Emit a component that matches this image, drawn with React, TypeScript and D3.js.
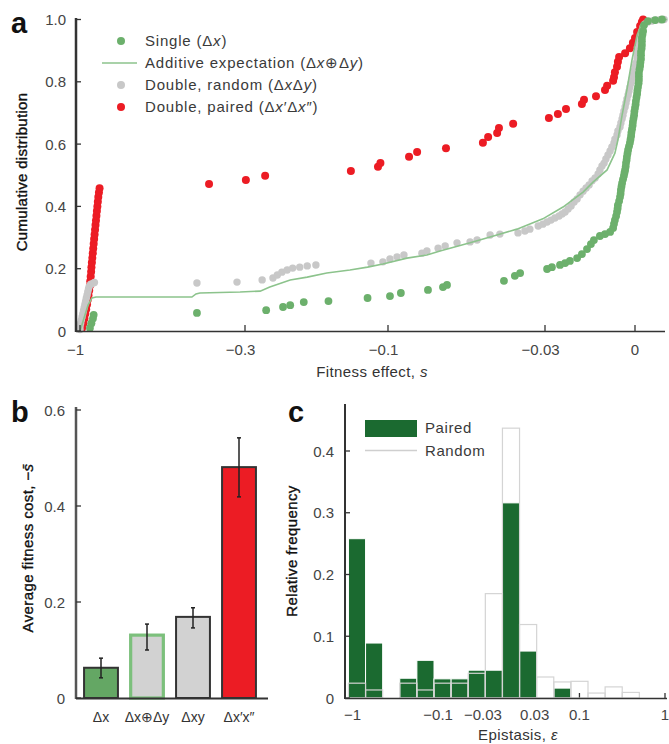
import React from 'react';
import * as d3 from 'd3';

const FONT = "'Liberation Sans', Arial, Helvetica, sans-serif";

// ---------------- Panel a: cumulative distributions [fitness effect s, cumulative fraction] -------------
const singleDx: [number, number][] = [
  [-0.93, 0.01], [-0.92, 0.025], [-0.91, 0.04], [-0.905, 0.052],
  [-0.426, 0.058], [-0.255, 0.067], [-0.224, 0.077], [-0.212, 0.083], [-0.191, 0.093], [-0.158, 0.096],
  [-0.117, 0.106], [-0.0985, 0.112], [-0.0906, 0.122], [-0.0736, 0.132], [-0.0656, 0.141], [-0.0636, 0.148],
  [-0.0411, 0.161], [-0.0378, 0.177], [-0.0363, 0.186], [-0.0293, 0.199], [-0.0277, 0.205], [-0.025, 0.212],
  [-0.0233, 0.218], [-0.0217, 0.225], [-0.0193, 0.234], [-0.0177, 0.247], [-0.016, 0.263], [-0.0147, 0.279],
  [-0.0137, 0.292], [-0.0117, 0.305], [-0.01, 0.311], [-0.0083, 0.318], [-0.0073, 0.331], [-0.007, 0.344],
  [-0.0067, 0.356], [-0.0063, 0.369], [-0.006, 0.382], [-0.0058, 0.393], [-0.0057, 0.404], [-0.0053, 0.417],
  [-0.005, 0.43], [-0.0048, 0.441], [-0.0047, 0.453], [-0.0045, 0.464], [-0.0043, 0.475], [-0.004, 0.487],
  [-0.0037, 0.498], [-0.0035, 0.508], [-0.0033, 0.517], [-0.0031, 0.528], [-0.003, 0.539], [-0.0028, 0.549],
  [-0.0027, 0.559], [-0.0025, 0.57], [-0.0023, 0.581], [-0.002, 0.593], [-0.0017, 0.604], [-0.0015, 0.615],
  [-0.0013, 0.626], [-0.0012, 0.637], [-0.001, 0.648], [-0.0008, 0.66], [-0.0007, 0.671], [-0.0005, 0.682],
  [-0.0003, 0.693], [-0.0002, 0.705], [0, 0.716], [0.0002, 0.727], [0.0003, 0.738], [0.0005, 0.75],
  [0.0007, 0.761], [0.0008, 0.772], [0.001, 0.783], [0.0012, 0.795], [0.0013, 0.806], [0.0013, 0.817],
  [0.0013, 0.828], [0.0015, 0.84], [0.0017, 0.851], [0.0018, 0.862], [0.002, 0.873], [0.002, 0.885],
  [0.002, 0.896], [0.0022, 0.907], [0.0023, 0.918], [0.0023, 0.93], [0.0023, 0.941], [0.0025, 0.952],
  [0.0027, 0.963], [0.003, 0.982], [0.0043, 0.995], [0.0067, 0.998], [0.009, 1.0],
];

const additiveExp: [number, number][] = [
  [-1, 0], [-0.971, 0.042], [-0.943, 0.083], [-0.916, 0.106], [-0.89, 0.109], [-0.442, 0.109],
  [-0.429, 0.119], [-0.417, 0.122], [-0.311, 0.125], [-0.267, 0.128], [-0.248, 0.141], [-0.212, 0.164],
  [-0.186, 0.173], [-0.16, 0.186], [-0.134, 0.196], [-0.117, 0.205], [-0.104, 0.215], [-0.0865, 0.234],
  [-0.0742, 0.244], [-0.0671, 0.257], [-0.0533, 0.283], [-0.0457, 0.302], [-0.0372, 0.327], [-0.0305, 0.36],
  [-0.024, 0.398], [-0.0173, 0.446], [-0.014, 0.478], [-0.0093, 0.517], [-0.0067, 0.571], [-0.0057, 0.613],
  [-0.0043, 0.693], [-0.0027, 0.774], [-0.001, 0.87], [0.0007, 0.95], [0.002, 0.982], [0.0043, 0.995],
  [0.0107, 1.0],
];

const doubleRandom: [number, number][] = [
  [-1, 0.005], [-1, 0.015], [-0.995, 0.025], [-0.99, 0.035], [-0.985, 0.045], [-0.98, 0.055], [-0.975, 0.065],
  [-0.97, 0.075], [-0.965, 0.085], [-0.96, 0.095], [-0.955, 0.105], [-0.95, 0.115], [-0.945, 0.125],
  [-0.94, 0.135], [-0.935, 0.143], [-0.925, 0.15], [-0.91, 0.153], [-0.9, 0.156],
  [-0.426, 0.154], [-0.318, 0.157], [-0.263, 0.164], [-0.242, 0.17], [-0.234, 0.18], [-0.226, 0.189],
  [-0.217, 0.196], [-0.208, 0.202], [-0.197, 0.205], [-0.186, 0.209], [-0.174, 0.212], [-0.114, 0.218],
  [-0.104, 0.222], [-0.0985, 0.231], [-0.0933, 0.238], [-0.0885, 0.244], [-0.0771, 0.25], [-0.0742, 0.257],
  [-0.0681, 0.266], [-0.0645, 0.273], [-0.0589, 0.283], [-0.0533, 0.286], [-0.0505, 0.292], [-0.0457, 0.308],
  [-0.0424, 0.311], [-0.0369, 0.315], [-0.035, 0.321], [-0.0337, 0.327], [-0.0316, 0.337], [-0.0305, 0.343],
  [-0.0293, 0.35], [-0.028, 0.356], [-0.0267, 0.363], [-0.0253, 0.369], [-0.0243, 0.376], [-0.0233, 0.382],
  [-0.0223, 0.392], [-0.0213, 0.401], [-0.0203, 0.414], [-0.0193, 0.424], [-0.0183, 0.437], [-0.0173, 0.449],
  [-0.0163, 0.459], [-0.0153, 0.469], [-0.0143, 0.482], [-0.0133, 0.491], [-0.0123, 0.504], [-0.0117, 0.517],
  [-0.011, 0.53], [-0.0103, 0.539], [-0.0097, 0.552], [-0.009, 0.565], [-0.0083, 0.578], [-0.0077, 0.591],
  [-0.007, 0.604], [-0.0067, 0.616], [-0.006, 0.629], [-0.0057, 0.642], [-0.005, 0.655], [-0.0047, 0.668],
  [-0.0043, 0.681], [-0.004, 0.693], [-0.0037, 0.706], [-0.0033, 0.719], [-0.003, 0.732], [-0.0027, 0.745],
  [-0.0023, 0.758], [-0.002, 0.77], [-0.0017, 0.783], [-0.0013, 0.796], [-0.001, 0.809], [-0.0007, 0.822],
  [-0.0003, 0.835], [0, 0.848], [0.0003, 0.86], [0.0007, 0.873], [0.0007, 0.886], [0.001, 0.899],
  [0.0013, 0.912], [0.0013, 0.925], [0.0017, 0.937], [0.002, 0.95], [0.0023, 0.963], [0.0027, 0.976],
  [0.0033, 0.986], [0.0043, 0.992], [0.0057, 0.995], [0.007, 0.998], [0.0083, 0.999], [0.0097, 1.0],
];

const doublePaired: [number, number][] = [
  [-0.985, 0.01], [-0.975, 0.025], [-0.968, 0.04], [-0.962, 0.055], [-0.956, 0.07], [-0.95, 0.085],
  [-0.945, 0.1], [-0.94, 0.115], [-0.935, 0.13], [-0.93, 0.145], [-0.928, 0.16], [-0.925, 0.175],
  [-0.922, 0.19], [-0.92, 0.205], [-0.917, 0.22], [-0.914, 0.235], [-0.911, 0.25], [-0.908, 0.265],
  [-0.905, 0.28], [-0.902, 0.295], [-0.899, 0.31], [-0.896, 0.325], [-0.893, 0.34], [-0.89, 0.355],
  [-0.887, 0.37], [-0.884, 0.385], [-0.881, 0.4], [-0.878, 0.415], [-0.875, 0.43], [-0.871, 0.445],
  [-0.867, 0.458],
  [-0.39, 0.472], [-0.298, 0.485], [-0.257, 0.498], [-0.133, 0.514], [-0.108, 0.527], [-0.106, 0.539],
  [-0.0851, 0.559], [-0.08, 0.575], [-0.0641, 0.587], [-0.0483, 0.604], [-0.0464, 0.623], [-0.0433, 0.636],
  [-0.0427, 0.652], [-0.0383, 0.665], [-0.0287, 0.684], [-0.0257, 0.697], [-0.023, 0.713], [-0.0177, 0.729],
  [-0.017, 0.742], [-0.013, 0.754], [-0.01, 0.774], [-0.0093, 0.787], [-0.0073, 0.803], [-0.007, 0.815],
  [-0.0067, 0.831], [-0.006, 0.848], [-0.0057, 0.864], [-0.0053, 0.88], [-0.0033, 0.892], [-0.0017, 0.908],
  [-0.0007, 0.925], [0, 0.941], [0.0007, 0.96], [0.0017, 0.979], [0.0023, 0.992], [0.0027, 1.0],
];

const aXTicks = [-1, -0.3, -0.1, -0.03, 0];
const aXTickLabels = ['−1', '−0.3', '−0.1', '−0.03', '0'];
const aYTicks = [0, 0.2, 0.4, 0.6, 0.8, 1.0];
const aYTickLabels = ['0', '0.2', '0.4', '0.6', '0.8', '1.0'];

// ---------------- Panel b: average fitness cost -------------
const bCategories = ['Δx', 'Δx⊕Δy', 'Δxy', 'Δx′x″'];
const bMeans = [0.063, 0.131, 0.169, 0.481];
const bLow = [0.042, 0.1, 0.146, 0.419];
const bHigh = [0.083, 0.154, 0.188, 0.542];
const bYTicks = [0, 0.2, 0.4, 0.6];
const bYTickLabels = ['0', '0.2', '0.4', '0.6'];

// ---------------- Panel c: epistasis histogram (19 bins: 9 log bins per side of 0.2 decade + a central bin) -------------
const cPaired = [0.258, 0.089, 0, 0.032, 0.061, 0.031, 0.031, 0.045, 0.045, 0.316, 0.076, 0, 0.016, 0, 0, 0, 0, 0, 0];
const cRandom = [0.024, 0.013, 0, 0.024, 0.013, 0.024, 0.024, 0.04, 0.169, 0.437, 0.119, 0.034, 0.026, 0.027, 0.008, 0.018, 0.009, 0, 0];
const cXTicks = [-1, -0.1, -0.03, 0.03, 0.1, 1];
const cXTickLabels = ['−1', '−0.1', '−0.03', '0.03', '0.1', '1'];
const cYTicks = [0, 0.1, 0.2, 0.3, 0.4];
const cYTickLabels = ['0', '0.1', '0.2', '0.3', '0.4'];

const GREEN = '#6cb06c';
const GREEN_LINE = '#8cc38c';
const GRAY = '#c8c8c8';
const RED = '#ec1c24';
const DARK_GREEN = '#1b6a30';
const AXIS = '#333';
const TICKTXT = '#444';

export default function App() {
  // Panel a scales
  const xLogA = d3.scaleLog().domain([1, 0.3, 0.1, 0.03]).range([80, 245, 388, 545]);
  const xLinA = d3.scaleLinear().domain([-0.03, 0]).range([545, 635]);
  const xA = (s: number) => (s <= -0.03 ? xLogA(-s) : xLinA(s));
  const yA = d3.scaleLinear().domain([0, 1]).range([331, 19.5]);
  const lineA = d3.line<[number, number]>().x((d) => xA(d[0])).y((d) => yA(d[1]));

  // Panel b scales
  const xB = d3.scaleBand<string>().domain(bCategories).range([78, 262]).paddingInner(0.22).paddingOuter(0.11);
  const yB = d3.scaleLinear().domain([0, 0.6]).range([698, 410]);

  // Panel c scales: log |epsilon| on each side, linear central bin
  const cLeft = 357;
  const cRight = 665;
  const stepC = (cRight - cLeft) / 18;
  const edgeS = Math.pow(10, -1.7);
  const xCneg = d3.scaleLog().domain([1, edgeS]).range([cLeft, cLeft + 8.5 * stepC]);
  const xCmid = d3.scaleLinear().domain([-edgeS, edgeS]).range([cLeft + 8.5 * stepC, cLeft + 9.5 * stepC]);
  const xCpos = d3.scaleLog().domain([edgeS, 1]).range([cLeft + 9.5 * stepC, cRight]);
  const xC = (s: number) => (s <= -edgeS ? xCneg(-s) : s >= edgeS ? xCpos(s) : xCmid(s));
  const yC = d3.scaleLinear().domain([0, 0.4]).range([698, 451]);
  const binEdges = d3.range(10).map((k) => -Math.pow(10, 0.1 - 0.2 * k))
    .concat(d3.range(10).map((k) => Math.pow(10, -1.7 + 0.2 * k)));

  const tickText = (x: number, y: number, label: string, key: string | number, anchor: string = 'middle') => {
    const neg = label.startsWith('−');
    return (
      <text key={key} x={anchor === 'middle' && neg ? x - 4.4 : x} y={y} textAnchor={anchor}
        fontSize={15} fill={TICKTXT} fontFamily={FONT}>{label}</text>
    );
  };

  const legendRows = [41, 63, 85, 107];

  return (
    <svg width={669} height={744} style={{ position: 'absolute', left: 0, top: 0, background: '#fff' }}
      fontFamily={FONT}>
      <rect x={0} y={0} width={669} height={744} fill="#fff" />

      {/* ================= Panel a ================= */}
      <text x={11} y={33} fontSize={29} fontWeight="bold" fill="#111">a</text>
      <g>
        {doublePaired.map((d, i) => (
          <circle key={'r' + i} cx={xA(d[0])} cy={yA(d[1])} r={4} fill={RED} />
        ))}
        {doubleRandom.map((d, i) => (
          <circle key={'g' + i} cx={xA(d[0])} cy={yA(d[1])} r={3.7} fill={GRAY} />
        ))}
        <path d={lineA(additiveExp) || ''} fill="none" stroke={GREEN_LINE} strokeWidth={1.6} />
        {singleDx.map((d, i) => (
          <circle key={'s' + i} cx={xA(d[0])} cy={yA(d[1])} r={3.9} fill={GREEN} />
        ))}
      </g>
      <line x1={76} x2={76} y1={18} y2={332} stroke={AXIS} strokeWidth={2.5} />
      <line x1={76} x2={665} y1={331.5} y2={331.5} stroke={AXIS} strokeWidth={1.6} />
      {aYTicks.map((t, i) => (
        <g key={'ay' + i}>
          <line x1={76} x2={81} y1={yA(t)} y2={yA(t)} stroke={AXIS} strokeWidth={1.3} />
          {tickText(66, yA(t) + 5.5, aYTickLabels[i], 'ayt' + i, 'end')}
        </g>
      ))}
      {aXTicks.map((t, i) => (
        <g key={'ax' + i}>
          <line x1={xA(t)} x2={xA(t)} y1={331} y2={325} stroke={AXIS} strokeWidth={1.3} />
          {tickText(xA(t), 355, aXTickLabels[i], 'axt' + i)}
        </g>
      ))}
      <text x={372} y={377} textAnchor="middle" fontSize={15} fill="#333" letterSpacing={0.4}>
        Fitness effect, <tspan fontStyle="italic">s</tspan>
      </text>
      <text transform="translate(27,172) rotate(-90)" textAnchor="middle" fontSize={15} fill="#111"
        stroke="#111" strokeWidth={0.35} letterSpacing={0.3}>
        Cumulative distribution
      </text>
      <g fontSize={15} fill="#3a3a3a" letterSpacing={0.8}>
        <circle cx={121} cy={legendRows[0]} r={4} fill={GREEN} />
        <text x={145} y={legendRows[0] + 5}>Single (Δ<tspan fontStyle="italic">x</tspan>)</text>
        <line x1={102} x2={137} y1={legendRows[1]} y2={legendRows[1]} stroke={GREEN_LINE} strokeWidth={1.6} />
        <text x={145} y={legendRows[1] + 5}>Additive expectation (Δ<tspan fontStyle="italic">x</tspan>⊕Δ<tspan fontStyle="italic">y</tspan>)</text>
        <circle cx={121} cy={legendRows[2]} r={4} fill={GRAY} />
        <text x={145} y={legendRows[2] + 5}>Double, random (Δ<tspan fontStyle="italic">x</tspan>Δ<tspan fontStyle="italic">y</tspan>)</text>
        <circle cx={121} cy={legendRows[3]} r={4} fill={RED} />
        <text x={145} y={legendRows[3] + 5}>Double, paired (Δ<tspan fontStyle="italic">x</tspan>′Δ<tspan fontStyle="italic">x</tspan>″)</text>
      </g>

      {/* ================= Panel b ================= */}
      <text x={11} y={422} fontSize={29} fontWeight="bold" fill="#111">b</text>
      {bCategories.map((c, i) => {
        const x0 = xB(c) as number;
        const w = xB.bandwidth();
        const fills = ['#64a764', '#d2d2d2', '#d2d2d2', RED];
        const strokes = [AXIS, '#7cc07c', AXIS, AXIS];
        const sw = [2, 3.2, 2, 2];
        return (
          <g key={'b' + i}>
            <rect x={x0 + sw[i] / 2} y={yB(bMeans[i])} width={w - sw[i]} height={yB(0) - yB(bMeans[i])}
              fill={fills[i]} stroke={strokes[i]} strokeWidth={sw[i]} />
            <line x1={x0 + w / 2} x2={x0 + w / 2} y1={yB(bHigh[i])} y2={yB(bLow[i])} stroke="#222" strokeWidth={1.5} />
            <line x1={x0 + w / 2 - 2} x2={x0 + w / 2 + 2} y1={yB(bHigh[i])} y2={yB(bHigh[i])} stroke="#222" strokeWidth={1.5} />
            <line x1={x0 + w / 2 - 2} x2={x0 + w / 2 + 2} y1={yB(bLow[i])} y2={yB(bLow[i])} stroke="#222" strokeWidth={1.5} />
            <text x={x0 + w / 2} y={722} textAnchor="middle" fontSize={14} fill="#333">{c}</text>
          </g>
        );
      })}
      <line x1={76} x2={76} y1={407} y2={699} stroke="#555" strokeWidth={2.5} />
      <line x1={76} x2={268} y1={698.5} y2={698.5} stroke={AXIS} strokeWidth={2} />
      {bYTicks.map((t, i) => (
        <g key={'by' + i}>
          <line x1={76} x2={81} y1={yB(t)} y2={yB(t)} stroke={AXIS} strokeWidth={1.3} />
          {tickText(65, yB(t) + 5.5, bYTickLabels[i], 'byt' + i, 'end')}
        </g>
      ))}
      <text transform="translate(33,548) rotate(-90)" textAnchor="middle" fontSize={15} fill="#111"
        stroke="#111" strokeWidth={0.35} letterSpacing={0.4}>
        Average fitness cost, −<tspan fontStyle="italic">s̄</tspan>
      </text>

      {/* ================= Panel c ================= */}
      <text x={288} y={422} fontSize={29} fontWeight="bold" fill="#111">c</text>
      {cXTicks.map((t, i) => (
        <g key={'cx' + i}>
          <line x1={xC(t)} x2={xC(t)} y1={698} y2={693} stroke={AXIS} strokeWidth={1.3} />
          {tickText(xC(t), 720, cXTickLabels[i], 'cxt' + i)}
        </g>
      ))}
      {cPaired.map((v, i) =>
        v > 0 ? (
          <rect key={'cp' + i} x={xC(binEdges[i])} y={yC(v)} width={xC(binEdges[i + 1]) - xC(binEdges[i])}
            height={yC(0) - yC(v)} fill={DARK_GREEN} stroke="#fff" strokeWidth={1} />
        ) : null
      )}
      {cRandom.map((v, i) =>
        v > 0 ? (
          <rect key={'cr' + i} x={xC(binEdges[i])} y={yC(v)} width={xC(binEdges[i + 1]) - xC(binEdges[i])}
            height={yC(0) - yC(v)} fill="none" stroke="#d4d4d4" strokeWidth={1.2} />
        ) : null
      )}
      <line x1={345} x2={345} y1={404} y2={699} stroke={AXIS} strokeWidth={2} />
      <line x1={345} x2={667} y1={698.5} y2={698.5} stroke={AXIS} strokeWidth={1.6} />
      {cYTicks.map((t, i) => (
        <g key={'cy' + i}>
          <line x1={345} x2={350} y1={yC(t)} y2={yC(t)} stroke={AXIS} strokeWidth={1.3} />
          {tickText(334, yC(t) + 5.5, cYTickLabels[i], 'cyt' + i, 'end')}
        </g>
      ))}
      <text x={518} y={740} textAnchor="middle" fontSize={15} fill="#333" letterSpacing={0.4}>
        Epistasis, <tspan fontStyle="italic">ε</tspan>
      </text>
      <text transform="translate(297,551) rotate(-90)" textAnchor="middle" fontSize={15} fill="#111"
        stroke="#111" strokeWidth={0.35} letterSpacing={0.4}>
        Relative frequency
      </text>
      <rect x={365} y={420} width={52} height={17} fill={DARK_GREEN} />
      <text x={425} y={433} fontSize={15} fill="#3a3a3a" letterSpacing={0.6}>Paired</text>
      <line x1={365} x2={417} y1={450.5} y2={450.5} stroke="#cfcfcf" strokeWidth={1.5} />
      <text x={425} y={456} fontSize={15} fill="#3a3a3a" letterSpacing={0.6}>Random</text>
    </svg>
  );
}
